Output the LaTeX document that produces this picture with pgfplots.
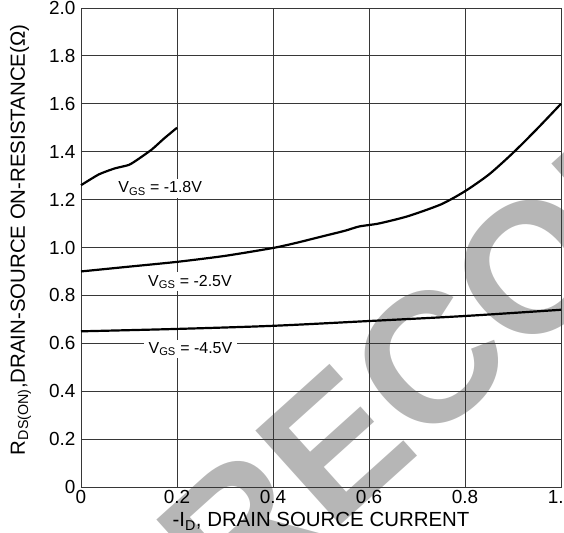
\documentclass[border=0pt]{standalone}
\usepackage{fontspec}
\setmainfont{Liberation Sans}
\usepackage{pgfplots}
\pgfplotsset{compat=1.18}
\definecolor{wm}{RGB}{182,182,182}
\definecolor{gridc}{RGB}{55,55,55}

\begin{document}
\begin{tikzpicture}[x=1bp,y=1bp]
% diagonal watermark behind the chart
\node[rotate=42, anchor=base west, inner sep=0pt, text=wm,
      font=\bfseries\fontsize{185}{185}\selectfont] at (151,-136) {RECOMMENDED};
\begin{axis}[
  at={(0,0)}, anchor=south west,
  scale only axis, width=480bp, height=479bp,
  xmin=0, xmax=1, ymin=0, ymax=2,
  xtick={0,0.2,0.4,0.6,0.8,1.0},
  xticklabels={0,0.2,0.4,0.6,0.8,1.0},
  ytick={0,0.2,0.4,0.6,0.8,1.0,1.2,1.4,1.6,1.8,2.0},
  yticklabels={0,0.2,0.4,0.6,0.8,1.0,1.2,1.4,1.6,1.8,2.0},
  grid=major,
  major grid style={gridc, line width=0.8bp},
  axis line style={gridc, line width=0.9bp},
  major tick length=0pt,
  tick label style={font=\fontsize{19}{22}\selectfont},
  yticklabel style={xshift=-2bp},
  xlabel={-I\textsubscript{D}, DRAIN SOURCE CURRENT},
  ylabel={R\textsubscript{DS(ON)},DRAIN-SOURCE ON-RESISTANCE(Ω)},
  label style={font=\fontsize{20.5}{24}\selectfont},
  xlabel style={at={(axis description cs:0.5,-0.0835)}, anchor=base},
  ylabel style={at={(axis description cs:-0.1167,0.516)}, anchor=base, rotate=0},
  clip=false,
]
% V_GS = -1.8 V
\addplot[black, line width=2.2bp, smooth, tension=0.35] coordinates {
  (0,1.26) (0.037,1.305) (0.07,1.33) (0.1,1.345) (0.12,1.37)
  (0.148,1.41) (0.173,1.455) (0.2,1.5)
};
% V_GS = -2.5 V
\addplot[black, line width=2.2bp, smooth, tension=0.4] coordinates {
  (0,0.90) (0.1,0.92) (0.2,0.94) (0.3,0.965) (0.4,0.998) (0.45,1.02)
  (0.5,1.045) (0.55,1.07) (0.58,1.088) (0.62,1.10) (0.68,1.13)
  (0.75,1.18) (0.8,1.235) (0.85,1.305) (0.9,1.395) (0.95,1.495)
  (1.0,1.60)
};
% V_GS = -4.5 V
\addplot[black, line width=2.2bp, smooth] coordinates {
  (0,0.65) (0.2,0.66) (0.4,0.673) (0.6,0.693) (0.8,0.714) (1.0,0.74)
};
\tikzset{curvelabel/.style={fill=white, inner xsep=5bp, inner ysep=2.5bp,
  anchor=base, font=\fontsize{16}{18}\selectfont}}
\node[curvelabel] at (axis cs:0.165,1.228) {V\textsubscript{GS} = -1.8V};
\node[curvelabel] at (axis cs:0.227,0.839) {V\textsubscript{GS} = -2.5V};
\node[curvelabel] at (axis cs:0.228,0.559) {V\textsubscript{GS} = -4.5V};
\end{axis}
\pgfresetboundingbox
\useasboundingbox (-81,-46) rectangle (483,487);
\end{tikzpicture}
\end{document}
